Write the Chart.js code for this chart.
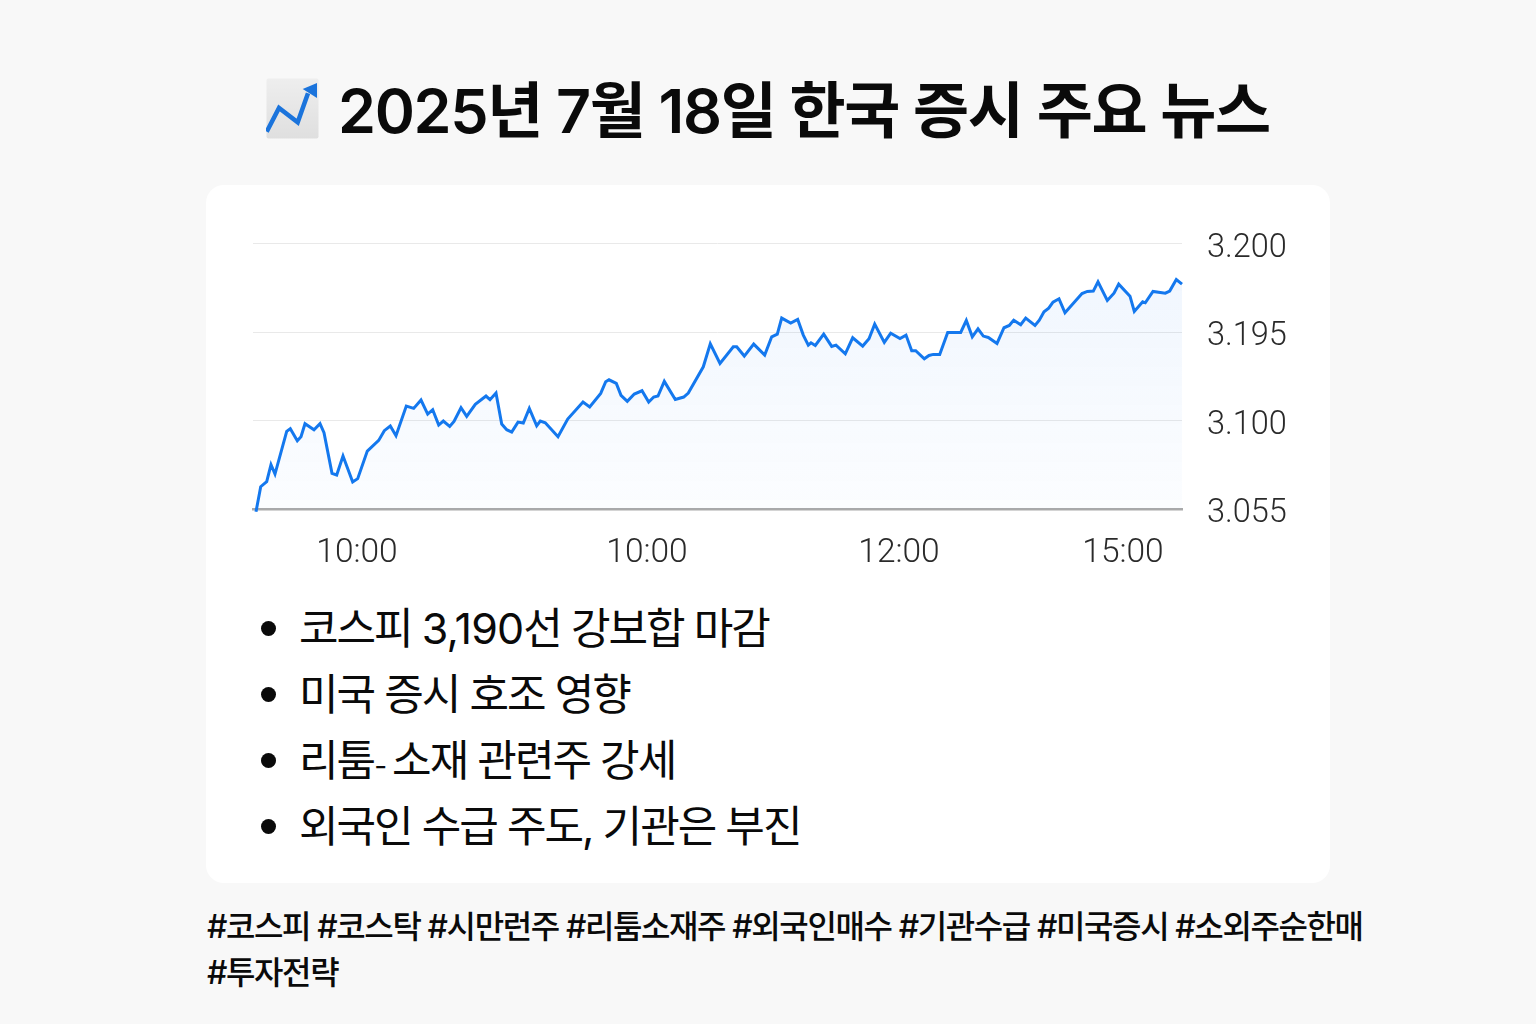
<!DOCTYPE html>
<html lang="ko">
<head>
<meta charset="utf-8">
<title>2025년 7월 18일 한국 증시 주요 뉴스</title>
<script src="https://cdn.jsdelivr.net/npm/chart.js@4/dist/chart.umd.min.js"></script>
<style>
    html, body { margin: 0; padding: 0; }
    body { width: 1536px; height: 1024px; background: #f8f8f8; position: relative; overflow: hidden; font-family: Inter, "Noto Sans CJK KR", sans-serif; color: #0a0a0a; }
    #icon { position: absolute; left: 266px; top: 78px; width: 54px; height: 62px; }
    h1 { position: absolute; left: 338px; top: 66px; margin: 0; font-size: 61px; line-height: 90px; font-weight: 600; letter-spacing: -1.35px; white-space: nowrap; }
    #card { position: absolute; left: 206px; top: 185px; width: 1124px; height: 698px; background: #fff; border-radius: 18px; }
    #chart-box { position: absolute; left: 250px; top: 199px; width: 1050px; height: 376px; }
    ul { position: absolute; left: 299px; top: 595px; margin: 0; padding: 0; list-style: none; font-size: 43px; line-height: 66px; font-weight: 400; letter-spacing: -2px; white-space: nowrap; }
    li { position: relative; height: 66px; }
    li::before { content: ""; position: absolute; left: -38px; top: 26px; width: 15px; height: 15px; border-radius: 50%; background: #0a0a0a; }
    .num { letter-spacing: -0.8px; }
    .dash { font-size: 28px; line-height: 0; letter-spacing: -5px; }
    #tags { position: absolute; left: 207px; top: 904px; width: 1175px; margin: 0; font-size: 32px; line-height: 46px; font-weight: 500; letter-spacing: -1.4px; }
</style>
</head>
<body>
<svg id="icon" viewBox="0 0 54 62">
    <defs>
        <linearGradient id="iconBg" x1="0" y1="0" x2="0" y2="1">
            <stop offset="0" stop-color="#eeeeee"/>
            <stop offset="1" stop-color="#dfdfdf"/>
        </linearGradient>
    </defs>
    <rect x="0.5" y="0.5" width="52" height="60" rx="2" fill="url(#iconBg)"/>
    <path d="M0.7 53.7 L13 30 L31.7 44.3 L42 15.3" fill="none" stroke="#1b74dc" stroke-width="4.5"/>
    <path d="M36.7 11 L51 5 L51 20 Z" fill="#1b74dc"/>
</svg>
<h1>2025년 7월 18일 한국 증시 주요 뉴스</h1>
<div id="card"></div>
<div id="chart-box"><canvas id="myChart"></canvas></div>
<ul id="news"></ul>
<p id="tags"></p>

<script>
// y axis labels are not evenly valued in the picture but are evenly spaced,
// so values are kept as axis position: 0 = first label, 100 = next, and so on
const yTickLabels = ['3.055', '3.100', '3.195', '3.200'];
const xTickTimes = [101, 391, 643, 867];
const xTickLabels = ['10:00', '10:00', '12:00', '15:00'];

const times = [0, 4.7, 10.7, 15, 19, 30.7, 34.3, 41.3, 45, 49, 58, 64, 68, 76, 80.7, 87, 96.7, 101.7, 111.3, 122.7,
    128.3, 134.3, 140, 150.3, 157.7, 165, 171.7, 176.7, 182.7, 187.3, 193.7, 198, 205, 210.7, 219.3, 230, 234, 240, 245.7, 250.7,
    255.7, 262, 267.3, 273.3, 280.7, 284.3, 289.3, 302, 311.7, 327, 333.7, 344.7, 349.7, 353, 360.3, 365, 371.3, 378.3, 386, 392.7,
    397.7, 402, 408.3, 419.3, 427.7, 432.3, 447.3, 454.3, 464, 477.3, 480.7, 488.3, 497.7, 508.7, 515.7, 521.3, 525.7, 534.7, 541.7, 547.3,
    552.3, 555, 559.3, 567.7, 575.7, 580, 589.3, 596.7, 606.7, 613, 618.7, 628.3, 634.7, 644, 650, 655.7, 659.7, 668.3, 673, 677.3,
    683.7, 691.7, 704.7, 710.3, 716.3, 722, 727.3, 732.3, 741, 748, 753.3, 757.7, 764.7, 769.7, 779, 783.3, 788, 792.7, 797, 803,
    809, 826, 831.3, 837.3, 842, 851.3, 858, 862.7, 874, 878.3, 886.7, 889.3, 897, 909.3, 913.7, 920.3, 926];

const values = [-3, 25.2, 30.9, 50.1, 39.5, 87.7, 90.7, 77.2, 81.7, 96.4, 89.6, 96.4, 86.2, 40.3, 38.4, 59.8, 30.5, 34.3, 65.5, 77.5,
    88.5, 93.7, 82.8, 116.3, 113.7, 123.1, 107.3, 112.2, 94.9, 99.4, 93.3, 99, 114.4, 104.6, 118.2, 127.6, 123.5, 131, 96, 89.6,
    87, 98.2, 97.1, 113.7, 94.1, 99.4, 97.5, 81.7, 101.6, 120.8, 115.2, 130.6, 143.8, 146, 141.9, 128.4, 121.6, 129.9, 133.6, 120.8,
    126.5, 127.6, 144.2, 123.8, 126.5, 131, 160.7, 186.7, 164.5, 183.3, 183.3, 172.8, 186.3, 173.9, 194.6, 197.6, 215.7, 210, 214.2, 196.5,
    185.2, 187.8, 184.8, 197.6, 183.7, 185.2, 175.4, 193.5, 184.1, 192.3, 208.9, 188.2, 198.7, 192.7, 196.5, 178.8, 178.8, 169.8, 173.5, 174.7,
    174.7, 199.5, 199.5, 213, 194.6, 203.6, 195.4, 193.8, 187.1, 204.8, 207.4, 213.4, 208.2, 215.7, 207.4, 213.4, 222.8, 227, 233.7, 237.5,
    221.7, 243.5, 245.8, 246.2, 256.7, 235.6, 243.9, 254.1, 240.5, 223.2, 234.1, 233, 245.8, 243.9, 246.2, 259.3, 254.1];

const newsItems = ['코스피 3,190선 강보합 마감', '미국 증시 호조 영향', '리툼- 소재 관련주 강세', '외국인 수급 주도, 기관은 부진'];
const hashTags = ['#코스피', '#코스탁', '#시만런주', '#리툼소재주', '#외국인매수', '#기관수급', '#미국증시', '#소외주순한매', '#투자전략'];

// digits and the hyphen sit tighter/looser than the hangul in the picture
function markup(text) {
    return text.replace(/[\d,]{2,}/, m => `<span class="num">${m}</span>`).replace('-', '<span class="dash">-</span>');
}
document.getElementById('news').innerHTML = newsItems.map(t => `<li>${markup(t)}</li>`).join('');
document.getElementById('tags').textContent = hashTags.join(' ');

new Chart(document.getElementById('myChart'), {
    type: 'line',
    data: {
        datasets: [{
            data: times.map((t, i) => ({ x: t, y: values[i] })),
            borderColor: '#1478ee',
            borderWidth: 3,
            pointRadius: 0,
            tension: 0,
            clip: false,
            fill: 'origin',
            backgroundColor: ctx => {
                const area = ctx.chart.chartArea;
                if (!area) return 'transparent';
                const g = ctx.chart.ctx.createLinearGradient(0, area.top, 0, area.bottom);
                g.addColorStop(0, 'rgba(30,120,240,0.07)');
                g.addColorStop(1, 'rgba(30,120,240,0.015)');
                return g;
            }
        }]
    },
    options: {
        responsive: true,
        maintainAspectRatio: false,
        animation: false,
        layout: { padding: { left: 3 } },
        plugins: { legend: { display: false }, tooltip: { enabled: false } },
        scales: {
            x: {
                type: 'linear',
                min: -3,
                max: 926,
                afterBuildTicks: axis => { axis.ticks = xTickTimes.map(v => ({ value: v })); },
                afterFit: axis => { axis.height = 66; },
                grid: { display: false },
                border: { color: '#aaaaaa', width: 2.5 },
                ticks: {
                    autoSkip: false,
                    maxRotation: 0,
                    padding: 17,
                    font: { family: 'Roboto', size: 33.5, weight: '300' },
                    color: '#2a2a2a',
                    callback: value => xTickLabels[xTickTimes.indexOf(value)]
                }
            },
            y: {
                position: 'right',
                min: 0,
                max: 300,
                afterFit: axis => { axis.width = 118; },
                grid: { color: '#e9e9e9', lineWidth: 1, drawTicks: false },
                border: { display: false },
                ticks: {
                    stepSize: 100,
                    padding: 25,
                    labelOffset: 5,
                    font: { family: 'Roboto', size: 32.5, weight: '300' },
                    color: '#2a2a2a',
                    callback: value => yTickLabels[value / 100]
                }
            }
        }
    }
});
</script>
</body>
</html>
